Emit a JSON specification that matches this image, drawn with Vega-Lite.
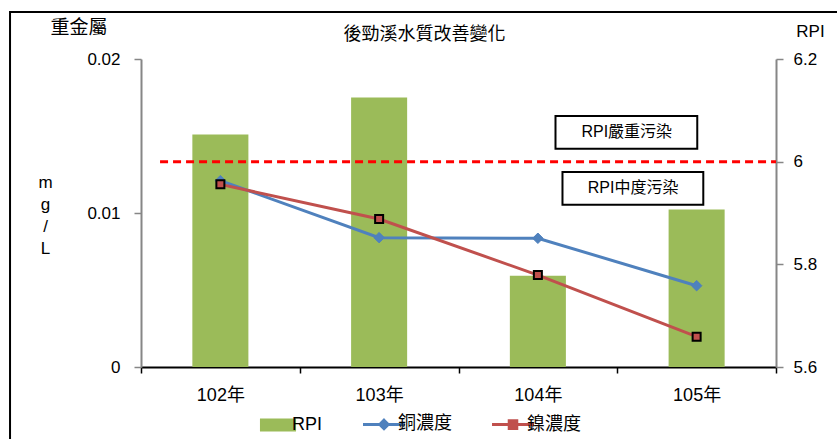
{
  "$schema": "https://vega.github.io/schema/vega-lite/v6.json",
  "width": 635,
  "height": 308,
  "autosize": {"type": "none"},
  "padding": {"left": 141, "top": 59, "right": 61, "bottom": 72},
  "background": "white",
  "config": {
    "view": {"stroke": null},
    "axis": {"grid": false, "labelFont": "Liberation Sans, Noto Sans CJK TC", "labelFontSize": 17, "labelColor": "black"}
  },
  "data": {
    "values": [
      {"year": "102年", "series": "RPI", "value": 6.053},
      {"year": "103年", "series": "RPI", "value": 6.125},
      {"year": "104年", "series": "RPI", "value": 5.778},
      {"year": "105年", "series": "RPI", "value": 5.907},
      {"year": "102年", "series": "銅濃度", "value": 0.0121},
      {"year": "103年", "series": "銅濃度", "value": 0.0084},
      {"year": "104年", "series": "銅濃度", "value": 0.00836},
      {"year": "105年", "series": "銅濃度", "value": 0.00528},
      {"year": "102年", "series": "鎳濃度", "value": 0.01186},
      {"year": "103年", "series": "鎳濃度", "value": 0.00961},
      {"year": "104年", "series": "鎳濃度", "value": 0.00597},
      {"year": "105年", "series": "鎳濃度", "value": 0.00197}
    ]
  },
  "layer": [
    {
      "layer": [
        {
          "transform": [{"filter": "datum.series === 'RPI'"}],
          "mark": {"type": "bar", "width": {"band": 0.353}},
          "encoding": {
            "x": {
              "field": "year", "type": "nominal",
              "scale": {"paddingInner": 0, "paddingOuter": 0},
              "axis": {"title": null, "labelAngle": 0, "tickBand": "extent", "tickSize": 6, "domainColor": "black", "domainWidth": 2, "tickColor": "black", "tickWidth": 1.5, "labelPadding": 13, "labelFontSize": 18}
            },
            "y": {
              "field": "value", "type": "quantitative",
              "scale": {"domain": [5.6, 6.2], "zero": false, "nice": false},
              "axis": {
                "orient": "right", "title": "RPI", "titleAngle": 0, "titleX": 34, "titleY": -28,
                "titleAlign": "center", "titleBaseline": "middle", "titleFont": "Liberation Sans",
                "titleFontSize": 17, "titleFontWeight": "normal", "titleColor": "black",
                "values": [5.6, 5.8, 6, 6.2],
                "labelExpr": "datum.value == 6 ? '6' : format(datum.value, '.1f')",
                "tickSize": 7, "labelPadding": 10, "domainColor": "#868686", "domainWidth": 2,
                "tickColor": "#868686", "tickWidth": 1.5
              }
            },
            "y2": {"datum": 5.6},
            "color": {
              "field": "series", "type": "nominal",
              "scale": {"domain": ["RPI", "銅濃度", "鎳濃度"], "range": ["#9BBB59", "#4F81BD", "#C0504D"]},
              "legend": {
                "title": null, "orient": "none", "direction": "horizontal", "legendX": 128, "legendY": 356,
                "symbolSize": 1760, "labelFont": "Liberation Sans, Noto Sans CJK TC", "labelFontSize": 18,
                "labelColor": "black", "labelOffset": 5, "columnPadding": 34, "padding": 0,
                "encode": {
                  "symbols": {
                    "update": {
                      "shape": {"signal": "datum.value === 'RPI' ? 'M-0.86,-0.31H0.86V0.31H-0.86Z' : datum.value === '銅濃度' ? 'M-1,0H1M0,-0.2L0.2,0L0,0.2L-0.2,0Z' : 'M-1,0H1M-0.18,-0.18H0.18V0.18H-0.18Z'"},
                      "fill": {"signal": "scale('color', datum.value)"},
                      "stroke": {"signal": "scale('color', datum.value)"},
                      "strokeWidth": {"signal": "datum.value === 'RPI' ? 0 : 3"},
                      "opacity": {"value": 1}
                    }
                  }
                }
              }
            }
          }
        },
        {
          "data": {"values": [{}]},
          "mark": {"type": "rule", "color": "#FF0000", "strokeWidth": 3, "strokeDash": [8, 5]},
          "encoding": {
            "x": {"datum": "102年", "bandPosition": 0.12},
            "x2": {"datum": "105年", "bandPosition": 1},
            "y": {"datum": 6, "scale": {"domain": [5.6, 6.2]}}
          }
        },
        {
          "data": {"values": [{}]},
          "mark": {"type": "rect", "fill": "white", "stroke": "black", "strokeWidth": 2},
          "encoding": {
            "x": {"datum": "104年", "bandPosition": 0.611},
            "x2": {"datum": "105年", "bandPosition": 0.504},
            "y": {"datum": 6.089, "scale": {"domain": [5.6, 6.2]}},
            "y2": {"datum": 6.025}
          }
        },
        {
          "data": {"values": [{}]},
          "mark": {"type": "rect", "fill": "white", "stroke": "black", "strokeWidth": 2},
          "encoding": {
            "x": {"datum": "104年", "bandPosition": 0.655},
            "x2": {"datum": "105年", "bandPosition": 0.542},
            "y": {"datum": 5.98, "scale": {"domain": [5.6, 6.2]}},
            "y2": {"datum": 5.916}
          }
        },
        {
          "data": {"values": [{}]},
          "mark": {"type": "text", "text": "RPI嚴重污染", "font": "Liberation Sans, Noto Sans CJK TC", "fontSize": 16, "color": "black", "align": "center", "baseline": "middle"},
          "encoding": {
            "x": {"datum": "105年", "bandPosition": 0.06},
            "y": {"datum": 6.058, "scale": {"domain": [5.6, 6.2]}}
          }
        },
        {
          "data": {"values": [{}]},
          "mark": {"type": "text", "text": "RPI中度污染", "font": "Liberation Sans, Noto Sans CJK TC", "fontSize": 16, "color": "black", "align": "center", "baseline": "middle"},
          "encoding": {
            "x": {"datum": "105年", "bandPosition": 0.1},
            "y": {"datum": 5.948, "scale": {"domain": [5.6, 6.2]}}
          }
        },
        {
          "data": {"values": [{}]},
          "mark": {"type": "rect", "fill": null, "filled": false, "stroke": "black", "strokeWidth": 2},
          "encoding": {
            "x": {"datum": "102年", "bandPosition": -0.825},
            "x2": {"datum": "105年", "bandPosition": 1.6},
            "y": {"datum": 6.2916, "scale": {"domain": [5.6, 6.2]}},
            "y2": {"datum": 5.0}
          }
        }
      ]
    },
    {
      "layer": [
        {
          "transform": [{"filter": "datum.series !== 'RPI'"}],
          "mark": {"type": "line", "strokeWidth": 3},
          "encoding": {
            "x": {"field": "year", "type": "nominal"},
            "y": {
              "field": "value", "type": "quantitative",
              "scale": {"domain": [0, 0.02], "nice": false},
              "axis": {
                "orient": "left", "title": ["m", "g", "/", "L"], "titleAngle": 0, "titleX": -96, "titleY": 123,
                "titleAlign": "center", "titleBaseline": "middle", "titleLineHeight": 22,
                "titleFont": "Liberation Sans", "titleFontSize": 17, "titleFontWeight": "normal", "titleColor": "black",
                "values": [0, 0.01, 0.02],
                "labelExpr": "datum.value == 0 ? '0' : format(datum.value, '.2f')",
                "tickSize": 7, "labelPadding": 14, "domainColor": "#868686", "domainWidth": 2,
                "tickColor": "#868686", "tickWidth": 1.5
              }
            },
            "color": {"field": "series", "type": "nominal", "legend": null}
          }
        },
        {
          "transform": [{"filter": "datum.series === '銅濃度'"}],
          "mark": {"type": "point", "shape": "diamond", "filled": true, "fill": "#4F81BD", "stroke": "#4F81BD", "strokeWidth": 1, "size": 110, "opacity": 1},
          "encoding": {
            "x": {"field": "year", "type": "nominal"},
            "y": {"field": "value", "type": "quantitative", "scale": {"domain": [0, 0.02], "nice": false}}
          }
        },
        {
          "transform": [{"filter": "datum.series === '鎳濃度'"}],
          "mark": {"type": "square", "fill": "#C0504D", "stroke": "black", "strokeWidth": 2, "size": 64, "opacity": 1},
          "encoding": {
            "x": {"field": "year", "type": "nominal"},
            "y": {"field": "value", "type": "quantitative", "scale": {"domain": [0, 0.02], "nice": false}}
          }
        },
        {
          "data": {"values": [{}]},
          "mark": {"type": "text", "text": "重金屬", "font": "Noto Sans CJK TC", "fontSize": 19, "color": "black", "align": "center", "baseline": "middle", "dx": -62, "dy": -31},
          "encoding": {
            "x": {"datum": "102年", "bandPosition": 0},
            "y": {"datum": 0.02, "scale": {"domain": [0, 0.02], "nice": false}}
          }
        },
        {
          "data": {"values": [{}]},
          "mark": {"type": "text", "text": "後勁溪水質改善變化", "font": "Noto Sans CJK TC", "fontSize": 18, "color": "black", "align": "center", "baseline": "middle", "dx": -34, "dy": -24},
          "encoding": {
            "x": {"datum": "104年", "bandPosition": 0},
            "y": {"datum": 0.02, "scale": {"domain": [0, 0.02], "nice": false}}
          }
        }
      ]
    }
  ],
  "resolve": {"scale": {"y": "independent"}}
}
